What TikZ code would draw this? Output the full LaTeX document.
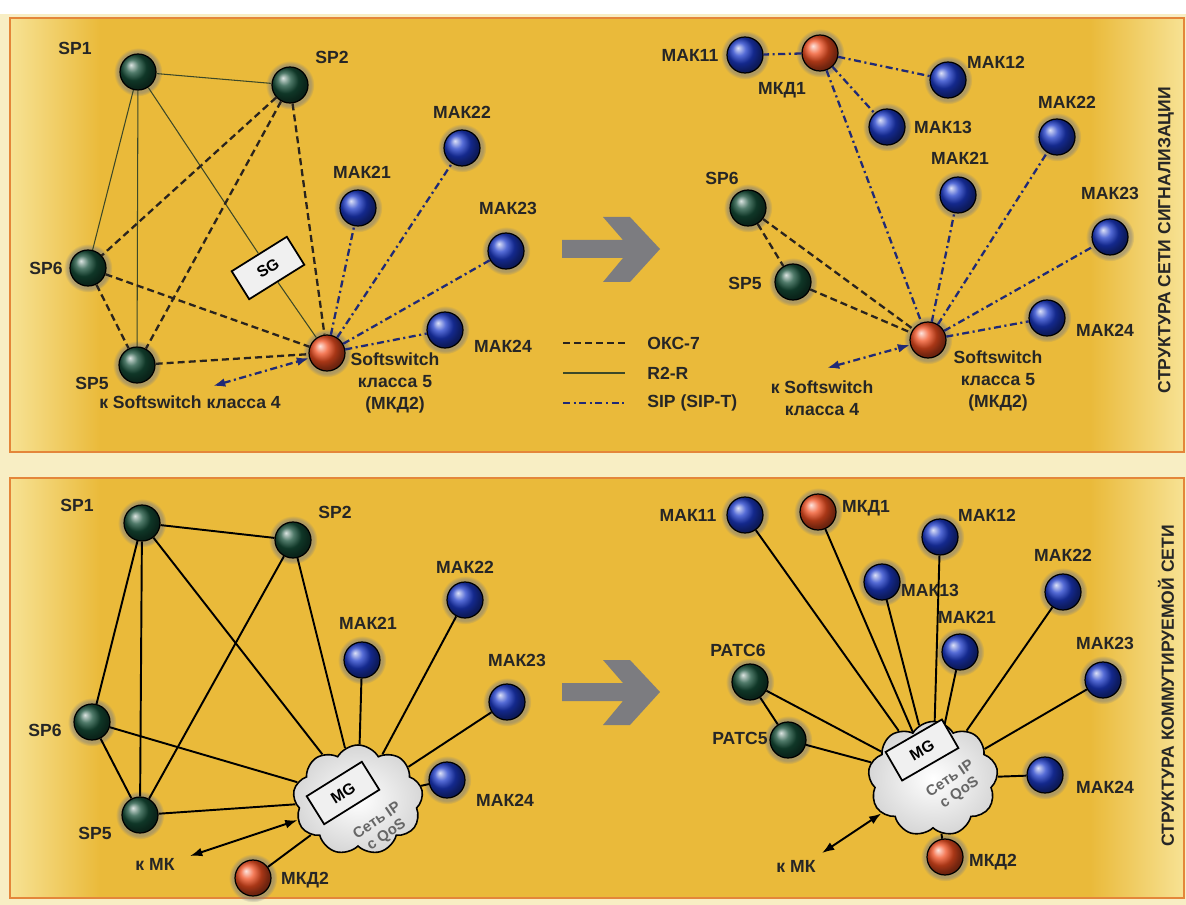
\documentclass[tikz,border=0pt]{standalone}
\usepackage{fontspec}
\setmainfont{Liberation Sans}
\usepackage{xcolor}
\usetikzlibrary{arrows.meta, shapes.symbols, shadows}
\definecolor{panelGold}{RGB}{234,186,58}
\definecolor{panelPale}{RGB}{247,226,148}
\definecolor{pageCream}{RGB}{248,238,196}
\definecolor{frameOrange}{RGB}{228,134,58}
\definecolor{spGreen}{RGB}{22,78,56}
\definecolor{makBlue}{RGB}{28,58,200}
\definecolor{mkdRed}{RGB}{240,78,32}
\definecolor{okcInk}{RGB}{42,36,30}
\definecolor{rtwoInk}{RGB}{60,72,40}
\definecolor{sipInk}{RGB}{32,42,118}
\definecolor{arrowGray}{RGB}{124,124,128}

\begin{document}
\begin{tikzpicture}[x=0.02cm, y=-0.02cm, font=\fontsize{10}{12.5}\selectfont\bfseries,
  >={Latex[length=7pt, width=5pt]},
  halo/.style={circular drop shadow={shadow xshift=0pt, shadow yshift=0pt, shadow scale=1.35, opacity=0.55}},
  ball/.style={circle, draw=black, line width=0.7pt, minimum size=0.72cm, inner sep=0pt, halo},
  spball/.style={ball, ball color=spGreen},
  makball/.style={ball, ball color=makBlue},
  mkdball/.style={ball, ball color=mkdRed},
  lbl/.style={inner sep=0pt, text=black!85},
  qos/.style={lbl, rotate=34, align=center, text=black!60, font=\fontsize{8.5}{9.5}\selectfont\bfseries},
  gbox/.style={draw=black, fill=white!94!black, line width=1pt, minimum width=1.3cm, minimum height=0.66cm, inner sep=0pt, font=\fontsize{9}{10}\selectfont\bfseries},
  net/.style={cloud, cloud puffs=9, cloud puff arc=120, aspect=1.15, minimum width=2.6cm, minimum height=2.2cm, draw=black, line width=0.9pt, inner color=white, outer color=black!16},
  okc/.style={okcInk, line width=1.3pt, dash pattern=on 4pt off 2.3pt},
  rtwo/.style={rtwoInk, line width=0.6pt},
  sip/.style={sipInk, line width=1.3pt, dash pattern=on 4pt off 2pt on 1.2pt off 2pt},
  link/.style={black, line width=1.1pt}]
\useasboundingbox (0,0) rectangle (1186,905);

% Page and the two panels, paler towards the side edges
\fill[white] (0,0) rectangle (1186,905);
\fill[pageCream] (0,14) rectangle (1186,905);
\foreach \top/\bot in {18/452, 478/898} {
  \fill[panelGold] (10,\top) rectangle (1184,\bot);
  \shade[left color=panelPale, right color=panelGold] (10,\top) rectangle (100,\bot);
  \shade[left color=panelGold, right color=panelPale] (1090,\top) rectangle (1184,\bot);
  \draw[frameOrange, line width=1.1pt] (10,\top) rectangle (1184,\bot);
}

% Transition arrows
\foreach \dy in {0,443}
  \fill[arrowGray] (562,240+\dy) -- (623,240+\dy) -- (603,217+\dy) -- (630,217+\dy) -- (660,249+\dy)
    -- (630,282+\dy) -- (603,282+\dy) -- (623,258+\dy) -- (562,258+\dy) -- cycle;

% ---------- Signalling network, before ----------
\node[spball] (sigLSP1) at (138,72) {};
\node[spball] (sigLSP2) at (290,85) {};
\node[spball] (sigLSP6) at (88,268) {};
\node[spball] (sigLSP5) at (137,365) {};
\node[mkdball] (sigLMKD2) at (327,353) {};
\node[makball] (sigLMAK21) at (358,208) {};
\node[makball] (sigLMAK22) at (462,148) {};
\node[makball] (sigLMAK23) at (506,251) {};
\node[makball] (sigLMAK24) at (445,330) {};
\node[gbox, rotate=32] (sigLSG) at (268,268) {SG};
\coordinate (sigLsw4) at (213,386);

\node[lbl] (sigLSP1lbl) at (75,48) {SP1};
\node[lbl] (sigLSP2lbl) at (332,57) {SP2};
\node[lbl] (sigLSP6lbl) at (46,268) {SP6};
\node[lbl] (sigLSP5lbl) at (92,383) {SP5};
\node[lbl] (sigLMAK21lbl) at (362,172) {МАК21};
\node[lbl] (sigLMAK22lbl) at (462,112) {МАК22};
\node[lbl] (sigLMAK23lbl) at (508,208) {МАК23};
\node[lbl] (sigLMAK24lbl) at (503,346) {МАК24};
\node[lbl, align=center] (sigLMKD2lbl) at (395,383) {Softswitch\\класса 5\\(МКД2)};
\node[lbl] (sigLsw4lbl) at (190,402) {к Softswitch класса 4};

\foreach \b in {SP2,SP6,SP5}
  \draw[rtwo] (sigLSP1) -- (sigL\b);
\draw[rtwo] (sigLSP1) -- (sigLSG) -- (sigLMKD2);
\foreach \a/\b in {SP2/SP6, SP2/SP5, SP2/MKD2, SP6/SP5, SP6/MKD2, SP5/MKD2}
  \draw[okc] (sigL\a) -- (sigL\b);
\foreach \b in {MAK21,MAK22,MAK23,MAK24}
  \draw[sip] (sigLMKD2) -- (sigL\b);
\draw[sip, <->] (sigLsw4) -- (sigLMKD2);

% Legend
\node[lbl, anchor=west] (legOkc) at (647,343) {ОКС-7};
\node[lbl, anchor=west] (legRtwo) at (647,373) {R2-R};
\node[lbl, anchor=west] (legSip) at (647,403) {SIP (SIP-T)};
\draw[okc] (legOkc.west) ++(-84,0) -- ++(62,0);
\draw[rtwo, line width=1pt] (legRtwo.west) ++(-84,0) -- ++(62,0);
\draw[sip] (legSip.west) ++(-84,0) -- ++(62,0);

% ---------- Signalling network, after ----------
\node[makball] (sigRMAK11) at (745,55) {};
\node[mkdball] (sigRMKD1) at (820,53) {};
\node[makball] (sigRMAK12) at (948,80) {};
\node[makball] (sigRMAK13) at (887,127) {};
\node[makball] (sigRMAK22) at (1057,137) {};
\node[makball] (sigRMAK21) at (958,195) {};
\node[spball] (sigRSP6) at (748,208) {};
\node[spball] (sigRSP5) at (793,282) {};
\node[makball] (sigRMAK23) at (1110,237) {};
\node[mkdball] (sigRMKD2) at (928,340) {};
\node[makball] (sigRMAK24) at (1047,318) {};
\coordinate (sigRsw4) at (827,368);

\node[lbl] (sigRMAK11lbl) at (690,55) {МАК11};
\node[lbl] (sigRMKD1lbl) at (782,90) {МКД1};
\node[lbl] (sigRMAK12lbl) at (996,62) {МАК12};
\node[lbl] (sigRMAK13lbl) at (943,127) {МАК13};
\node[lbl] (sigRMAK22lbl) at (1067,102) {МАК22};
\node[lbl] (sigRMAK21lbl) at (960,158) {МАК21};
\node[lbl] (sigRSP6lbl) at (722,178) {SP6};
\node[lbl] (sigRSP5lbl) at (745,283) {SP5};
\node[lbl] (sigRMAK23lbl) at (1110,193) {МАК23};
\node[lbl] (sigRMAK24lbl) at (1105,330) {МАК24};
\node[lbl, align=center] (sigRMKD2lbl) at (998,381) {Softswitch\\класса 5\\(МКД2)};
\node[lbl, align=center] (sigRsw4lbl) at (822,398) {к Softswitch\\класса 4};
\node[lbl, rotate=90] (sigTitle) at (1166,240) {СТРУКТУРА СЕТИ СИГНАЛИЗАЦИИ};

\foreach \b in {MAK11,MAK12,MAK13,MKD2}
  \draw[sip] (sigRMKD1) -- (sigR\b);
\foreach \b in {MAK21,MAK22,MAK23,MAK24}
  \draw[sip] (sigRMKD2) -- (sigR\b);
\foreach \a/\b in {SP6/SP5, SP6/MKD2, SP5/MKD2}
  \draw[okc] (sigR\a) -- (sigR\b);
\draw[sip, <->] (sigRsw4) -- (sigRMKD2);

% ---------- Switched network, before ----------
\node[net] (comLNet) at (358,800) {};
\node[gbox, rotate=32] (comLMG) at (343,793) {MG};
\node[qos] (comLQos) at (382,828) {Сеть IP\\с QoS};
\node[spball] (comLSP1) at (142,523) {};
\node[spball] (comLSP2) at (293,540) {};
\node[spball] (comLSP6) at (92,722) {};
\node[spball] (comLSP5) at (140,815) {};
\node[makball] (comLMAK21) at (362,660) {};
\node[makball] (comLMAK22) at (465,600) {};
\node[makball] (comLMAK23) at (507,702) {};
\node[makball] (comLMAK24) at (447,780) {};
\node[mkdball] (comLMKD2) at (253,878) {};
\coordinate (comLmk) at (190,856);

\node[lbl] (comLSP1lbl) at (77,505) {SP1};
\node[lbl] (comLSP2lbl) at (335,512) {SP2};
\node[lbl] (comLSP6lbl) at (45,730) {SP6};
\node[lbl] (comLSP5lbl) at (95,833) {SP5};
\node[lbl] (comLMAK21lbl) at (368,623) {МАК21};
\node[lbl] (comLMAK22lbl) at (465,567) {МАК22};
\node[lbl] (comLMAK23lbl) at (517,660) {МАК23};
\node[lbl] (comLMAK24lbl) at (505,800) {МАК24};
\node[lbl] (comLMKD2lbl) at (305,880) {МКД2};
\node[lbl] (comLmklbl) at (155,864) {к МК};

\foreach \a/\b in {SP1/SP2, SP1/SP6, SP1/SP5, SP2/SP5, SP6/SP5}
  \draw[link] (comL\a) -- (comL\b);
\foreach \b in {SP1,SP2,SP6,SP5,MAK21,MAK22,MAK23,MAK24,MKD2}
  \draw[link] (comLNet) -- (comL\b);
\draw[link, <->] (comLmk) -- (comLNet);

% ---------- Switched network, after ----------
\node[net, minimum height=2.3cm] (comRNet) at (933,779) {};
\node[gbox, rotate=30] (comRMG) at (922,750) {MG};
\node[qos] (comRQos) at (955,786) {Сеть IP\\с QoS};
\node[makball] (comRMAK11) at (745,515) {};
\node[mkdball] (comRMKD1) at (818,512) {};
\node[makball] (comRMAK12) at (940,537) {};
\node[makball] (comRMAK13) at (882,582) {};
\node[makball] (comRMAK22) at (1063,592) {};
\node[makball] (comRMAK21) at (960,652) {};
\node[spball] (comRPATC6) at (750,682) {};
\node[makball] (comRMAK23) at (1103,680) {};
\node[spball] (comRPATC5) at (788,740) {};
\node[makball] (comRMAK24) at (1045,775) {};
\node[mkdball] (comRMKD2) at (945,857) {};
\coordinate (comRmk) at (822,853);

\node[lbl] (comRMAK11lbl) at (688,515) {МАК11};
\node[lbl] (comRMKD1lbl) at (866,508) {МКД1};
\node[lbl] (comRMAK12lbl) at (987,515) {МАК12};
\node[lbl] (comRMAK13lbl) at (930,590) {МАК13};
\node[lbl] (comRMAK22lbl) at (1063,555) {МАК22};
\node[lbl] (comRMAK21lbl) at (967,617) {МАК21};
\node[lbl] (comRPATC6lbl) at (738,650) {РАТС6};
\node[lbl] (comRMAK23lbl) at (1105,643) {МАК23};
\node[lbl] (comRPATC5lbl) at (740,738) {РАТС5};
\node[lbl] (comRMAK24lbl) at (1105,787) {МАК24};
\node[lbl] (comRMKD2lbl) at (993,862) {МКД2};
\node[lbl] (comRmklbl) at (796,866) {к МК};
\node[lbl, rotate=90] (comTitle) at (1166,686) {СТРУКТУРА КОММУТИРУЕМОЙ СЕТИ};

\draw[link] (comRPATC6) -- (comRPATC5);
\foreach \b in {MAK11,MKD1,MAK12,MAK13,MAK21,MAK22,MAK23,MAK24,MKD2,PATC6,PATC5}
  \draw[link] (comRNet) -- (comR\b);
\draw[link, <->] (comRmk) -- (comRNet);
\end{tikzpicture}
\end{document}
